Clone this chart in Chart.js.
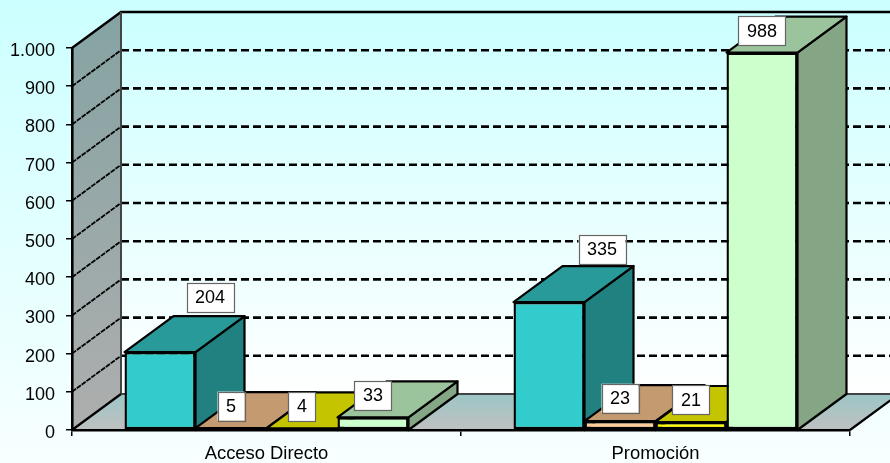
<!DOCTYPE html>
<html>
<head>
<meta charset="utf-8">
<style>
  html, body { margin: 0; padding: 0; background: #f8ffff; overflow: hidden; }
  canvas { display: block; }
</style>
<script src="https://cdn.jsdelivr.net/npm/chart.js@4/dist/chart.umd.min.js"></script>
</head>
<body>
<canvas id="myChart" width="890" height="463"></canvas>
<script>
// data
const categories = ['Acceso Directo', 'Promoción'];
const serie1 = [204, 335];
const serie2 = [5, 23];
const serie3 = [4, 21];
const serie4 = [33, 988];
const yMax = 1000;
const yStep = 100;

// colours per serie: front, top, side
const frontColors = ['#33cccc', '#ffcc99', '#ffff00', '#ccffcc'];
const topColors = ['#299a9a', '#c49a70', '#c4c400', '#9cc49c'];
const sideColors = ['#218080', '#a68259', '#a6a600', '#85a685'];

// label box shift from the top centre of each bar, [serie][category]
const labelShiftX = [[50, 53], [0, 0], [0, 0], [0, 0]];
const labelShiftY = [[-55, -53], [-22, -23], [-22, -22], [-22, -22]];

// depth of the fake 3D box
const depthX = 49;
const depthY = 36;

const poly = (ctx, pts) => {
    ctx.beginPath();
    ctx.moveTo(pts[0][0], pts[0][1]);
    pts.slice(1).forEach(p => ctx.lineTo(p[0], p[1]));
    ctx.closePath();
};

// page background, walls, floor and grid
const boxPlugin = {
    id: 'box3d',
    beforeDraw(chart) {
        const ctx = chart.ctx;
        const area = chart.chartArea;
        const y = chart.scales.y;
        const x0 = area.left, x1 = area.right;
        const yTop = y.getPixelForValue(yMax), yBot = y.getPixelForValue(0);

        ctx.save();
        let g = ctx.createLinearGradient(0, 0, 0, chart.height);
        g.addColorStop(0, '#ccffff');
        g.addColorStop(1, '#f8ffff');
        ctx.fillStyle = g;
        ctx.fillRect(0, 0, chart.width, chart.height);

        // back wall
        g = ctx.createLinearGradient(0, yTop - depthY, 0, yBot - depthY);
        g.addColorStop(0, '#ccffff');
        g.addColorStop(1, '#ffffff');
        ctx.fillStyle = g;
        ctx.fillRect(x0 + depthX, yTop - depthY, x1 - x0, yBot - yTop);

        // left wall
        g = ctx.createLinearGradient(0, yTop - depthY, 0, yBot);
        g.addColorStop(0, '#85a3a3');
        g.addColorStop(1, '#aeaeae');
        ctx.fillStyle = g;
        poly(ctx, [[x0, yTop], [x0 + depthX, yTop - depthY], [x0 + depthX, yBot - depthY], [x0, yBot]]);
        ctx.fill();

        // floor
        g = ctx.createLinearGradient(0, yBot - depthY, 0, yBot);
        g.addColorStop(0, '#9cc6c6');
        g.addColorStop(1, '#c0c0c0');
        ctx.fillStyle = g;
        poly(ctx, [[x0, yBot], [x1, yBot], [x1 + depthX, yBot - depthY], [x0 + depthX, yBot - depthY]]);
        ctx.fill();

        // grid lines
        ctx.strokeStyle = '#000';
        for (let v = yStep; v < yMax; v += yStep) {
            const py = y.getPixelForValue(v);
            ctx.setLineDash([5, 1]);
            ctx.lineWidth = 1.8;
            ctx.beginPath();
            ctx.moveTo(x0, py);
            ctx.lineTo(x0 + depthX, py - depthY);
            ctx.stroke();
            ctx.setLineDash([8, 4]);
            ctx.lineWidth = 2.6;
            ctx.beginPath();
            ctx.moveTo(x0 + depthX, py - depthY);
            ctx.lineTo(x1 + depthX, py - depthY);
            ctx.stroke();
        }
        ctx.setLineDash([]);

        // the top value sits on the wall edge, so solid there
        ctx.lineWidth = 2.4;
        ctx.beginPath();
        ctx.moveTo(x0, yTop);
        ctx.lineTo(x0 + depthX, yTop - depthY);
        ctx.lineTo(x1 + depthX, yTop - depthY);
        ctx.stroke();

        ctx.lineWidth = 2;
        ctx.strokeStyle = '#444';
        ctx.beginPath();
        ctx.moveTo(x0 + depthX, yTop - depthY);
        ctx.lineTo(x0 + depthX, yBot - depthY);
        ctx.lineTo(x1 + depthX, yBot - depthY);
        ctx.stroke();

        ctx.lineWidth = 2.2;
        ctx.strokeStyle = '#000';
        ctx.beginPath();
        ctx.moveTo(x0, yBot);
        ctx.lineTo(x0 + depthX, yBot - depthY);
        ctx.moveTo(x1, yBot);
        ctx.lineTo(x1 + depthX, yBot - depthY);
        ctx.stroke();
        ctx.restore();
    },
    // top and side of each bar, taken from the bar the library laid out
    beforeDatasetsDraw(chart) {
        const ctx = chart.ctx;
        const base = chart.scales.y.getPixelForValue(0);
        ctx.save();
        ctx.lineJoin = 'round';
        chart.data.datasets.forEach((ds, i) => {
            chart.getDatasetMeta(i).data.forEach(bar => {
                const l = bar.x - bar.width / 2;
                const r = bar.x + bar.width / 2;
                const t = bar.y;
                ctx.strokeStyle = '#000';
                ctx.lineWidth = 2.2;
                poly(ctx, [[r, t], [r + depthX, t - depthY], [r + depthX, base - depthY], [r, base]]);
                ctx.fillStyle = sideColors[i];
                ctx.fill();
                ctx.stroke();
                poly(ctx, [[l, t], [l + depthX, t - depthY], [r + depthX, t - depthY], [r, t]]);
                ctx.fillStyle = topColors[i];
                ctx.fill();
                ctx.stroke();
            });
        });
        ctx.restore();
    },
    // value labels
    afterDatasetsDraw(chart) {
        const ctx = chart.ctx;
        ctx.save();
        ctx.font = '18px "Liberation Sans", Arial, sans-serif';
        ctx.textAlign = 'center';
        ctx.textBaseline = 'middle';
        chart.data.datasets.forEach((ds, i) => {
            chart.getDatasetMeta(i).data.forEach((bar, j) => {
                const text = String(ds.data[j]);
                const w = Math.round(ctx.measureText(text).width) + 17;
                const h = 29;
                const cx = bar.x + labelShiftX[i][j];
                const cy = bar.y + labelShiftY[i][j];
                ctx.fillStyle = '#fff';
                ctx.fillRect(cx - w / 2, cy - h / 2, w, h);
                ctx.strokeStyle = '#666';
                ctx.lineWidth = 1.2;
                ctx.strokeRect(Math.round(cx - w / 2) + 0.5, Math.round(cy - h / 2) + 0.5, w, h);
                ctx.fillStyle = '#000';
                ctx.fillText(text, cx, cy + 1);
            });
        });
        ctx.restore();
    }
};

const makeDataset = (values, i) => ({
    label: 'Serie ' + (i + 1),
    data: values,
    backgroundColor: frontColors[i],
    borderColor: '#000',
    borderWidth: 2.4,
    borderSkipped: false,
    barPercentage: 1,
    categoryPercentage: 0.73
});

const fontFamily = '"Liberation Sans", Arial, sans-serif';

new Chart(document.getElementById('myChart'), {
    type: 'bar',
    data: {
        labels: categories,
        datasets: [serie1, serie2, serie3, serie4].map(makeDataset)
    },
    options: {
        responsive: false,
        animation: false,
        devicePixelRatio: 1,
        layout: { padding: { top: 48, right: 40, left: 0, bottom: 0 } },
        plugins: { legend: { display: false }, tooltip: { enabled: false } },
        scales: {
            x: {
                afterFit: s => { s.height = 33; },
                grid: { drawOnChartArea: false, drawTicks: true, tickLength: 6, color: '#000', lineWidth: 1.5 },
                border: { color: '#000', width: 2.6 },
                ticks: { color: '#000', font: { family: fontFamily, size: 18.4 }, padding: 7, maxRotation: 0 }
            },
            y: {
                min: 0,
                max: yMax,
                afterFit: s => { s.width = 72; },
                // labels sit a little lower than the tick in the original
                afterUpdate: s => {
                    const drawLabels = s.drawLabels;
                    s.drawLabels = function (area) {
                        this.ctx.save();
                        this.ctx.translate(0, 1.5);
                        drawLabels.call(this, area);
                        this.ctx.restore();
                    };
                },
                grid: { drawOnChartArea: false, drawTicks: true, tickLength: 6, color: '#000', lineWidth: 1.5 },
                border: { color: '#000', width: 2.6 },
                ticks: {
                    stepSize: yStep,
                    color: '#000',
                    font: { family: fontFamily, size: 18 },
                    padding: 11,
                    callback: v => String(v).replace(/^(\d)(\d{3})$/, '$1.$2')
                }
            }
        }
    },
    plugins: [boxPlugin]
});
</script>
</body>
</html>
